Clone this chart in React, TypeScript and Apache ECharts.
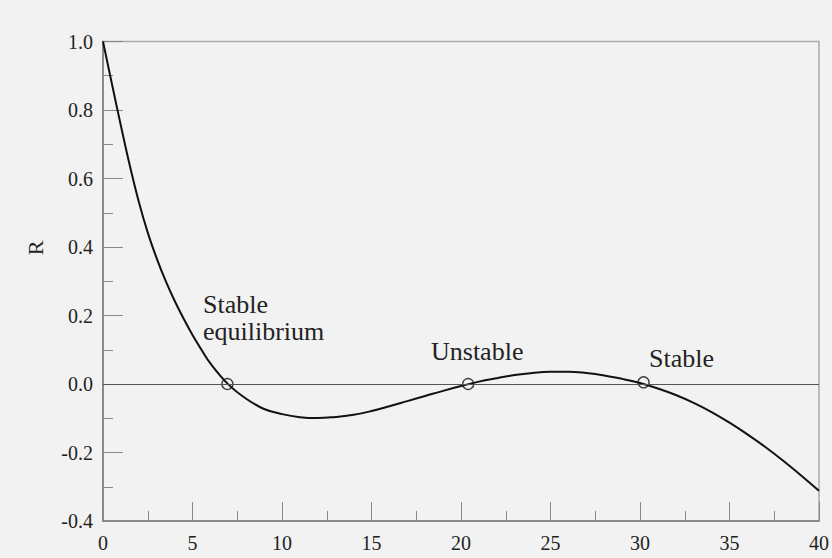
import React, { useEffect, useRef } from "react";
import * as echarts from "echarts";

const xValues = [0, 0.5, 1, 1.5, 2, 2.5, 3, 3.5, 4, 4.5, 5, 5.5, 6, 7, 8, 9, 10, 11, 12, 13, 14, 15, 16, 17, 18, 19, 20, 21, 22, 23, 24, 25, 26, 27, 28, 29, 30, 31, 32, 33, 34, 35, 36, 37, 38, 39, 40];
const rValues = [1.0, 0.876, 0.754, 0.637, 0.532, 0.442, 0.367, 0.301, 0.243, 0.191, 0.143, 0.1, 0.06, -0.001, -0.043, -0.073, -0.088, -0.097, -0.0995, -0.096, -0.09, -0.079, -0.065, -0.05, -0.035, -0.02, -0.006, 0.007, 0.017, 0.026, 0.032, 0.0355, 0.036, 0.032, 0.025, 0.015, 0.003, -0.013, -0.032, -0.055, -0.082, -0.113, -0.147, -0.184, -0.224, -0.267, -0.312];
const equilibriumX = [6.95, 20.4, 30.2];
const equilibriumR = [0, 0, 0.005];
const annotationTexts = ["Stable", "equilibrium", "Unstable", "Stable"];
const yAxisName = "R";

const SERIF = "Liberation Serif";

export default function App() {
  const ref = useRef<HTMLDivElement>(null);
  useEffect(() => {
    if (!ref.current) return;
    const chart = echarts.init(ref.current, undefined, { renderer: "svg" });
    const curve = xValues.map((x, i) => [x, rValues[i]]);
    const eq = equilibriumX.map((x, i) => [x, equilibriumR[i]]);
    const annStyle = { fontFamily: SERIF, fontSize: 26, fill: "#222", align: "left", verticalAlign: "middle" };
    chart.setOption({
      animation: false,
      backgroundColor: "#f2f2f2",
      textStyle: { fontFamily: SERIF },
      grid: {
        left: 103,
        right: 8.5,
        top: 41.5,
        bottom: 37,
        show: true,
        borderColor: "#aaaaaa",
        borderWidth: 1.5,
        backgroundColor: "transparent",
      },
      xAxis: {
        type: "value",
        min: 0,
        max: 40,
        interval: 5,
        axisLine: { show: true, onZero: false, lineStyle: { color: "#7a7a7a", width: 1.5 } },
        axisTick: { show: true, inside: true, length: 19, lineStyle: { color: "#888", width: 1 } },
        minorTick: { show: true, splitNumber: 2, length: 10, lineStyle: { color: "#888", width: 1 } },
        splitLine: { show: false },
        axisLabel: { color: "#222", fontFamily: SERIF, fontSize: 20, margin: 12 },
      },
      yAxis: {
        type: "value",
        min: -0.4,
        max: 1.0,
        interval: 0.2,
        axisLine: { show: true, onZero: false, lineStyle: { color: "#7a7a7a", width: 1.5 } },
        axisTick: { show: true, inside: true, length: 20, lineStyle: { color: "#888", width: 1 } },
        minorTick: { show: true, splitNumber: 2, length: 10, lineStyle: { color: "#888", width: 1 } },
        splitLine: { show: false },
        axisLabel: {
          color: "#222",
          fontFamily: SERIF,
          fontSize: 20,
          margin: 10,
          formatter: (v: number) => v.toFixed(1),
        },
      },
      graphic: [
        {
          type: "text",
          x: 35,
          y: 248,
          rotation: Math.PI / 2,
          style: { text: yAxisName, fontFamily: SERIF, fontSize: 22, fill: "#222", align: "center", verticalAlign: "middle" },
        },
        { type: "text", x: 203, y: 304, style: { ...annStyle, text: annotationTexts[0] } },
        { type: "text", x: 203, y: 331, style: { ...annStyle, text: annotationTexts[1] } },
        { type: "text", x: 431, y: 351, style: { ...annStyle, text: annotationTexts[2] } },
        { type: "text", x: 649, y: 358.5, style: { ...annStyle, text: annotationTexts[3] } },
      ],
      series: [
        {
          type: "line",
          data: curve,
          smooth: 0.4,
          showSymbol: false,
          symbol: "none",
          lineStyle: { color: "#111", width: 2 },
          markLine: {
            silent: true,
            symbol: ["none", "none"],
            label: { show: false },
            lineStyle: { color: "#555", width: 1, type: "solid" },
            data: [{ yAxis: 0 }],
          },
          z: 3,
        },
        {
          type: "scatter",
          data: eq,
          symbol: "circle",
          symbolSize: 11,
          itemStyle: { color: "rgba(0,0,0,0)", borderColor: "#111", borderWidth: 1.4 },
          z: 4,
        },
      ],
    });
    return () => chart.dispose();
  }, []);
  return <div ref={ref} style={{ position: "fixed", left: 0, top: 0, width: 832, height: 558 }} />;
}
